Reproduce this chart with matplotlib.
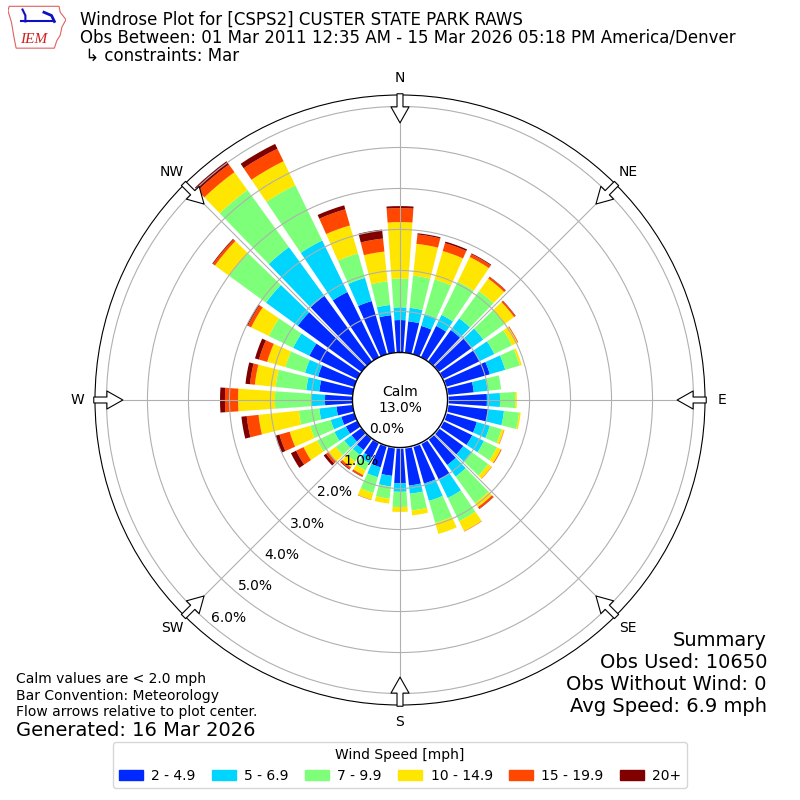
import numpy as np
import matplotlib
matplotlib.use("Agg")
import matplotlib.pyplot as plt
from matplotlib.patches import Patch, Polygon

# direction bins (deg, meteorological) and speed bins
directions = np.arange(0, 360, 10)
speed_labels = ["2 - 4.9", "5 - 6.9", "7 - 9.9", "10 - 14.9", "15 - 19.9", "20+"]

# percent of all obs, per direction bin, one list per speed bin
spd_2_5 = [0.79, 0.77, 0.72, 0.85, 0.95, 1.00, 1.00, 1.12, 0.65, 0.96, 1.00, 0.79,
           0.80, 0.75, 0.80, 1.00, 0.96, 0.94, 0.87, 0.70, 0.55, 0.40, 0.35, 0.30,
           0.31, 0.33, 0.40, 0.67, 0.82, 0.92, 1.30, 1.92, 1.98, 1.77, 1.35, 0.92]
spd_5_7 = [0.31, 0.33, 0.30, 0.30, 0.35, 0.35, 0.40, 0.39, 0.34, 0.32, 0.39, 0.33,
           0.32, 0.25, 0.35, 0.50, 0.44, 0.20, 0.21, 0.26, 0.25, 0.15, 0.15, 0.22,
           0.31, 0.27, 0.42, 0.32, 0.32, 0.33, 0.44, 0.96, 1.47, 1.40, 0.59, 0.25]
spd_7_10 = [0.70, 0.79, 0.88, 0.90, 0.82, 0.64, 0.48, 0.37, 0.33, 0.37, 0.37, 0.30,
            0.35, 0.50, 0.80, 0.63, 0.56, 0.41, 0.37, 0.30, 0.40, 0.20, 0.20, 0.26,
            0.47, 0.52, 0.50, 0.90, 0.75, 0.50, 0.66, 1.11, 1.72, 1.50, 0.62, 0.58]
spd_10_15 = [1.38, 0.78, 0.72, 0.67, 0.38, 0.29, 0.15, 0.05, 0.00, 0.04, 0.04, 0.06,
             0.11, 0.10, 0.12, 0.27, 0.28, 0.12, 0.12, 0.12, 0.17, 0.13, 0.17, 0.22,
             0.37, 0.52, 0.99, 0.90, 0.51, 0.46, 0.48, 0.43, 0.54, 0.65, 0.71, 0.73]
spd_15_20 = [0.34, 0.23, 0.20, 0.08, 0.05, 0.04, 0.02, 0.00, 0.00, 0.00, 0.00, 0.01,
             0.02, 0.01, 0.05, 0.01, 0.00, 0.00, 0.00, 0.00, 0.01, 0.04, 0.05, 0.07,
             0.20, 0.26, 0.29, 0.32, 0.12, 0.21, 0.09, 0.06, 0.23, 0.34, 0.41, 0.32]
spd_20p = [0.05, 0.03, 0.04, 0.02, 0.01, 0.01, 0.00, 0.00, 0.00, 0.00, 0.00, 0.00,
           0.00, 0.00, 0.01, 0.00, 0.00, 0.00, 0.00, 0.00, 0.00, 0.01, 0.02, 0.07,
           0.14, 0.10, 0.13, 0.12, 0.11, 0.10, 0.03, 0.02, 0.10, 0.13, 0.10, 0.22]
speeds = [spd_2_5, spd_5_7, spd_7_10, spd_10_15, spd_15_20, spd_20p]

calm_pct = 13.0
obs_used = 10650
obs_nowind = 0
avg_speed = 6.9
rings = np.arange(0, 7)
compass = ["N", "NE", "E", "SE", "S", "SW", "W", "NW"]

cmap = plt.get_cmap("jet")
colors = [cmap(v) for v in np.linspace(0, 1, 7)[1:]]

fig = plt.figure(figsize=(8, 8), dpi=100)
ax = fig.add_axes([95 / 800, 95 / 800, 610 / 800, 610 / 800], projection="polar")
ax.set_theta_zero_location("N")
ax.set_theta_direction(-1)

r0 = 1.16  # calm circle radius, in percent units
theta = np.deg2rad(directions)
width = np.deg2rad(10) * 0.8
bottom = np.full(len(directions), r0)
for vals, color, label in zip(speeds, colors, speed_labels):
    vals = np.array(vals)
    ax.bar(theta, vals, width=width, bottom=bottom, color=color, label=label,
           zorder=1, linewidth=0)
    bottom = bottom + vals

ax.set_ylim(0, 7.44)
ax.set_yticks(r0 + rings[1:])
ax.set_yticklabels([])
ax.set_xticks(np.deg2rad(np.arange(0, 360, 45)))
ax.set_xticklabels(compass)
ax.set_axisbelow(False)
ax.grid(True, color="#b0b0b0", lw=0.8)
ax.tick_params(axis="x", pad=2, labelsize=10)

# calm circle
t = np.linspace(0, 2 * np.pi, 300)
ax.fill_between(t, 0, r0, color="white", zorder=3)
ax.plot(t, np.full_like(t, r0), color="black", lw=1, zorder=3)
ax.text(0, 0, f"Calm\n{calm_pct:.1f}%", ha="center", va="center", fontsize=10, zorder=4)

for p in rings:
    ax.text(np.deg2rad(220), r0 + p, f"{p:.1f}%", ha="left", va="bottom",
            fontsize=10, zorder=4)

# flow arrows
for a in np.arange(0, 360, 45):
    ax.annotate("", xy=(np.deg2rad(a), 6.76), xytext=(np.deg2rad(a), 7.47),
                arrowprops=dict(arrowstyle="simple,head_length=1.15,head_width=1.3,tail_width=0.43",
                                fc="white", ec="black", lw=0.8, shrinkA=0, shrinkB=0),
                annotation_clip=False, zorder=5)

# header
fig.text(80 / 800, 1 - 20 / 800, "Windrose Plot for [CSPS2] CUSTER STATE PARK RAWS",
         fontsize=12, va="center")
fig.text(80 / 800, 1 - 38 / 800,
         "Obs Between: 01 Mar 2011 12:35 AM - 15 Mar 2026 05:18 PM America/Denver",
         fontsize=12, va="center")
fig.text(80 / 800, 1 - 56 / 800, " \u21b3 constraints: Mar", fontsize=12, va="center")

# logo
lax = fig.add_axes([8 / 800, 1 - 50 / 800, 58 / 800, 46 / 800])
lax.set_xlim(0, 1)
lax.set_ylim(0, 1)
lax.axis("off")
iowa = [(0.02, 0.95), (0.88, 0.95), (0.9, 0.82), (1.0, 0.66), (0.93, 0.5),
        (0.9, 0.32), (0.84, 0.2), (0.8, 0.04), (0.14, 0.04), (0.1, 0.3),
        (0.06, 0.6), (0.0, 0.85)]
lax.add_patch(Polygon(iowa, closed=True, fill=False, ec="#e06060", lw=0.8))
lax.plot([0.22, 0.78], [0.62, 0.62], color="#1010c0", lw=1.5)
lax.plot([0.25, 0.3, 0.3], [0.88, 0.75, 0.62], color="#1010c0", lw=1.5)
lax.plot([0.62, 0.75, 0.8], [0.82, 0.75, 0.62], color="#1010c0", lw=2)
lax.text(0.45, 0.22, "IEM", color="#d02020", fontsize=11, style="italic",
         family="Liberation Serif", ha="center", va="center")

# footer texts
fig.text(16 / 800, 1 - 679 / 800, "Calm values are < 2.0 mph", fontsize=10, va="center")
fig.text(16 / 800, 1 - 696 / 800, "Bar Convention: Meteorology", fontsize=10, va="center")
fig.text(16 / 800, 1 - 712 / 800, "Flow arrows relative to plot center.", fontsize=10, va="center")
fig.text(16 / 800, 1 - 730 / 800, "Generated: 16 Mar 2026", fontsize=14, va="center")

fig.text(767 / 800, 1 - 640 / 800, "Summary", fontsize=14, ha="right", va="center")
fig.text(767 / 800, 1 - 662 / 800, f"Obs Used: {obs_used}", fontsize=14, ha="right", va="center")
fig.text(767 / 800, 1 - 684 / 800, f"Obs Without Wind: {obs_nowind}", fontsize=14, ha="right", va="center")
fig.text(767 / 800, 1 - 706 / 800, f"Avg Speed: {avg_speed} mph", fontsize=14, ha="right", va="center")

handles = [Patch(color=c, label=l) for c, l in zip(colors, speed_labels)]
fig.legend(handles=handles, loc="lower center", ncol=6, title="Wind Speed [mph]",
           bbox_to_anchor=(0.5, 0.006), fontsize=10, title_fontsize=10,
           handlelength=1.75, handletextpad=0.6, columnspacing=1.15)

fig.savefig("out.png", dpi=100)
